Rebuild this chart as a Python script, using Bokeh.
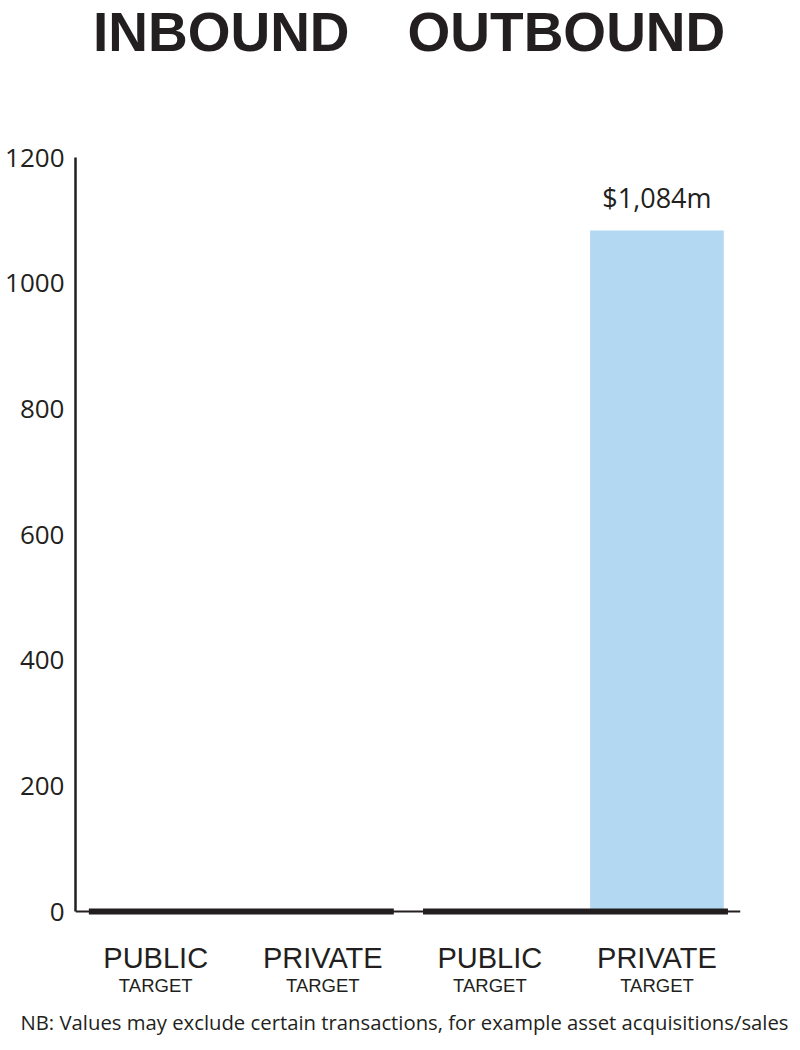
from bokeh.plotting import figure
from bokeh.models import Range1d, FixedTicker, Span, Title, ColumnDataSource
from bokeh.core.properties import value
from bokeh.embed import file_html
from bokeh.resources import INLINE

# ---- data ----
categories = ["PUBLIC", "PRIVATE", "PUBLIC", "PRIVATE"]
sublabels = ["TARGET", "TARGET", "TARGET", "TARGET"]
groups = ["INBOUND", "INBOUND", "OUTBOUND", "OUTBOUND"]
values = [0, 0, 0, 1084]
y_ticks = [0, 200, 400, 600, 800, 1000, 1200]
footnote = "NB: Values may exclude certain transactions, for example asset acquisitions/sales"

# ---- layout / style ----
W, H = 792, 1042
LEFT, RIGHT, BOTTOM = 75, 52, 44
TOP_TICK_PX = 157
BASE_PX = 911
INK = "#231f20"
BAR_COLOR = "#b3d8f2"
BAR_W = 0.8
GROUP_PAD_R = 0.425
TITLE_DX = {"INBOUND": -18, "OUTBOUND": -7}

k = (BASE_PX - TOP_TICK_PX) / max(y_ticks)
y_end = BASE_PX / k
frame_h = H - BOTTOM
y_start = -(frame_h - BASE_PX) / k

xs = list(range(len(categories)))

p = figure(width=W, height=H, x_range=Range1d(-0.48, 3.5), y_range=Range1d(y_start, y_end),
           output_backend="svg", toolbar_location=None, x_axis_location=None,
           min_border_left=LEFT, min_border_right=RIGHT, min_border_top=0, min_border_bottom=BOTTOM)
p.outline_line_color = None
p.grid.visible = False
p.background_fill_color = "white"
p.border_fill_color = "white"

# bars
p.vbar(x=xs, top=values, width=BAR_W, bottom=0, fill_color=BAR_COLOR, line_color=None)

# group baselines (thick)
gnames = []
for g in groups:
    if g not in gnames:
        gnames.append(g)
gx0, gx1, gxc = [], [], []
for g in gnames:
    idx = [i for i, gg in enumerate(groups) if gg == g]
    gx0.append(min(idx) - BAR_W / 2)
    gx1.append(max(idx) + GROUP_PAD_R)
    gxc.append((min(idx) + max(idx)) / 2)
p.segment(x0=gx0, y0=[0] * len(gnames), x1=gx1, y1=[0] * len(gnames),
          line_color=INK, line_width=6, line_cap="butt")

p.add_layout(Span(location=0, dimension="width", line_color=INK, line_width=2))

# value labels
lab = ColumnDataSource(dict(
    x=[x for x, v in zip(xs, values) if v > 0],
    y=[v for v in values if v > 0],
    t=["${:,}m".format(v) for v in values if v > 0],
))
p.text(x="x", y="y", text="t", source=lab, text_align="center", text_baseline="alphabetic",
       y_offset=-33, text_font=value("Open Sans"), text_font_size="27px", text_color=INK)

# category labels (two lines) under the baseline
csrc = ColumnDataSource(dict(x=xs, y=[0] * len(xs), c=categories, s=sublabels))
p.text(x="x", y="y", text="c", source=csrc, y_offset=46, text_align="center",
       text_baseline="alphabetic", text_font=value("Liberation Sans"),
       text_font_size="29px", text_color=INK)
p.text(x="x", y="y", text="s", source=csrc, y_offset=74, text_align="center",
       text_baseline="alphabetic", text_font=value("Liberation Sans"),
       text_font_size="18.5px", text_color=INK)

# group titles
tsrc = ColumnDataSource(dict(x=gxc, y=[y_end] * len(gnames), t=gnames,
                             dx=[TITLE_DX[g] for g in gnames]))
p.text(x="x", y="y", text="t", source=tsrc, x_offset="dx", y_offset=31,
       text_align="center", text_baseline="alphabetic",
       text_font=value("Liberation Sans"), text_font_style="bold", text_font_size="55px",
       text_color=INK)

# y axis
ya = p.yaxis[0]
ya.ticker = FixedTicker(ticks=y_ticks)
ya.bounds = (0, max(y_ticks))
ya.major_tick_line_color = None
ya.minor_tick_line_color = None
ya.major_tick_out = 0
ya.major_tick_in = 0
ya.axis_line_color = INK
ya.axis_line_width = 2.5
ya.major_label_text_font = "Open Sans"
ya.major_label_text_font_size = "26px"
ya.major_label_text_color = INK
ya.major_label_standoff = 11

note = Title(text=footnote, align="left", text_font="Open Sans", text_font_size="20.3px",
             text_font_style="normal", text_color=INK, offset=-55, standoff=14)
p.add_layout(note, "below")

open("out.html", "w").write(file_html(p, INLINE))
